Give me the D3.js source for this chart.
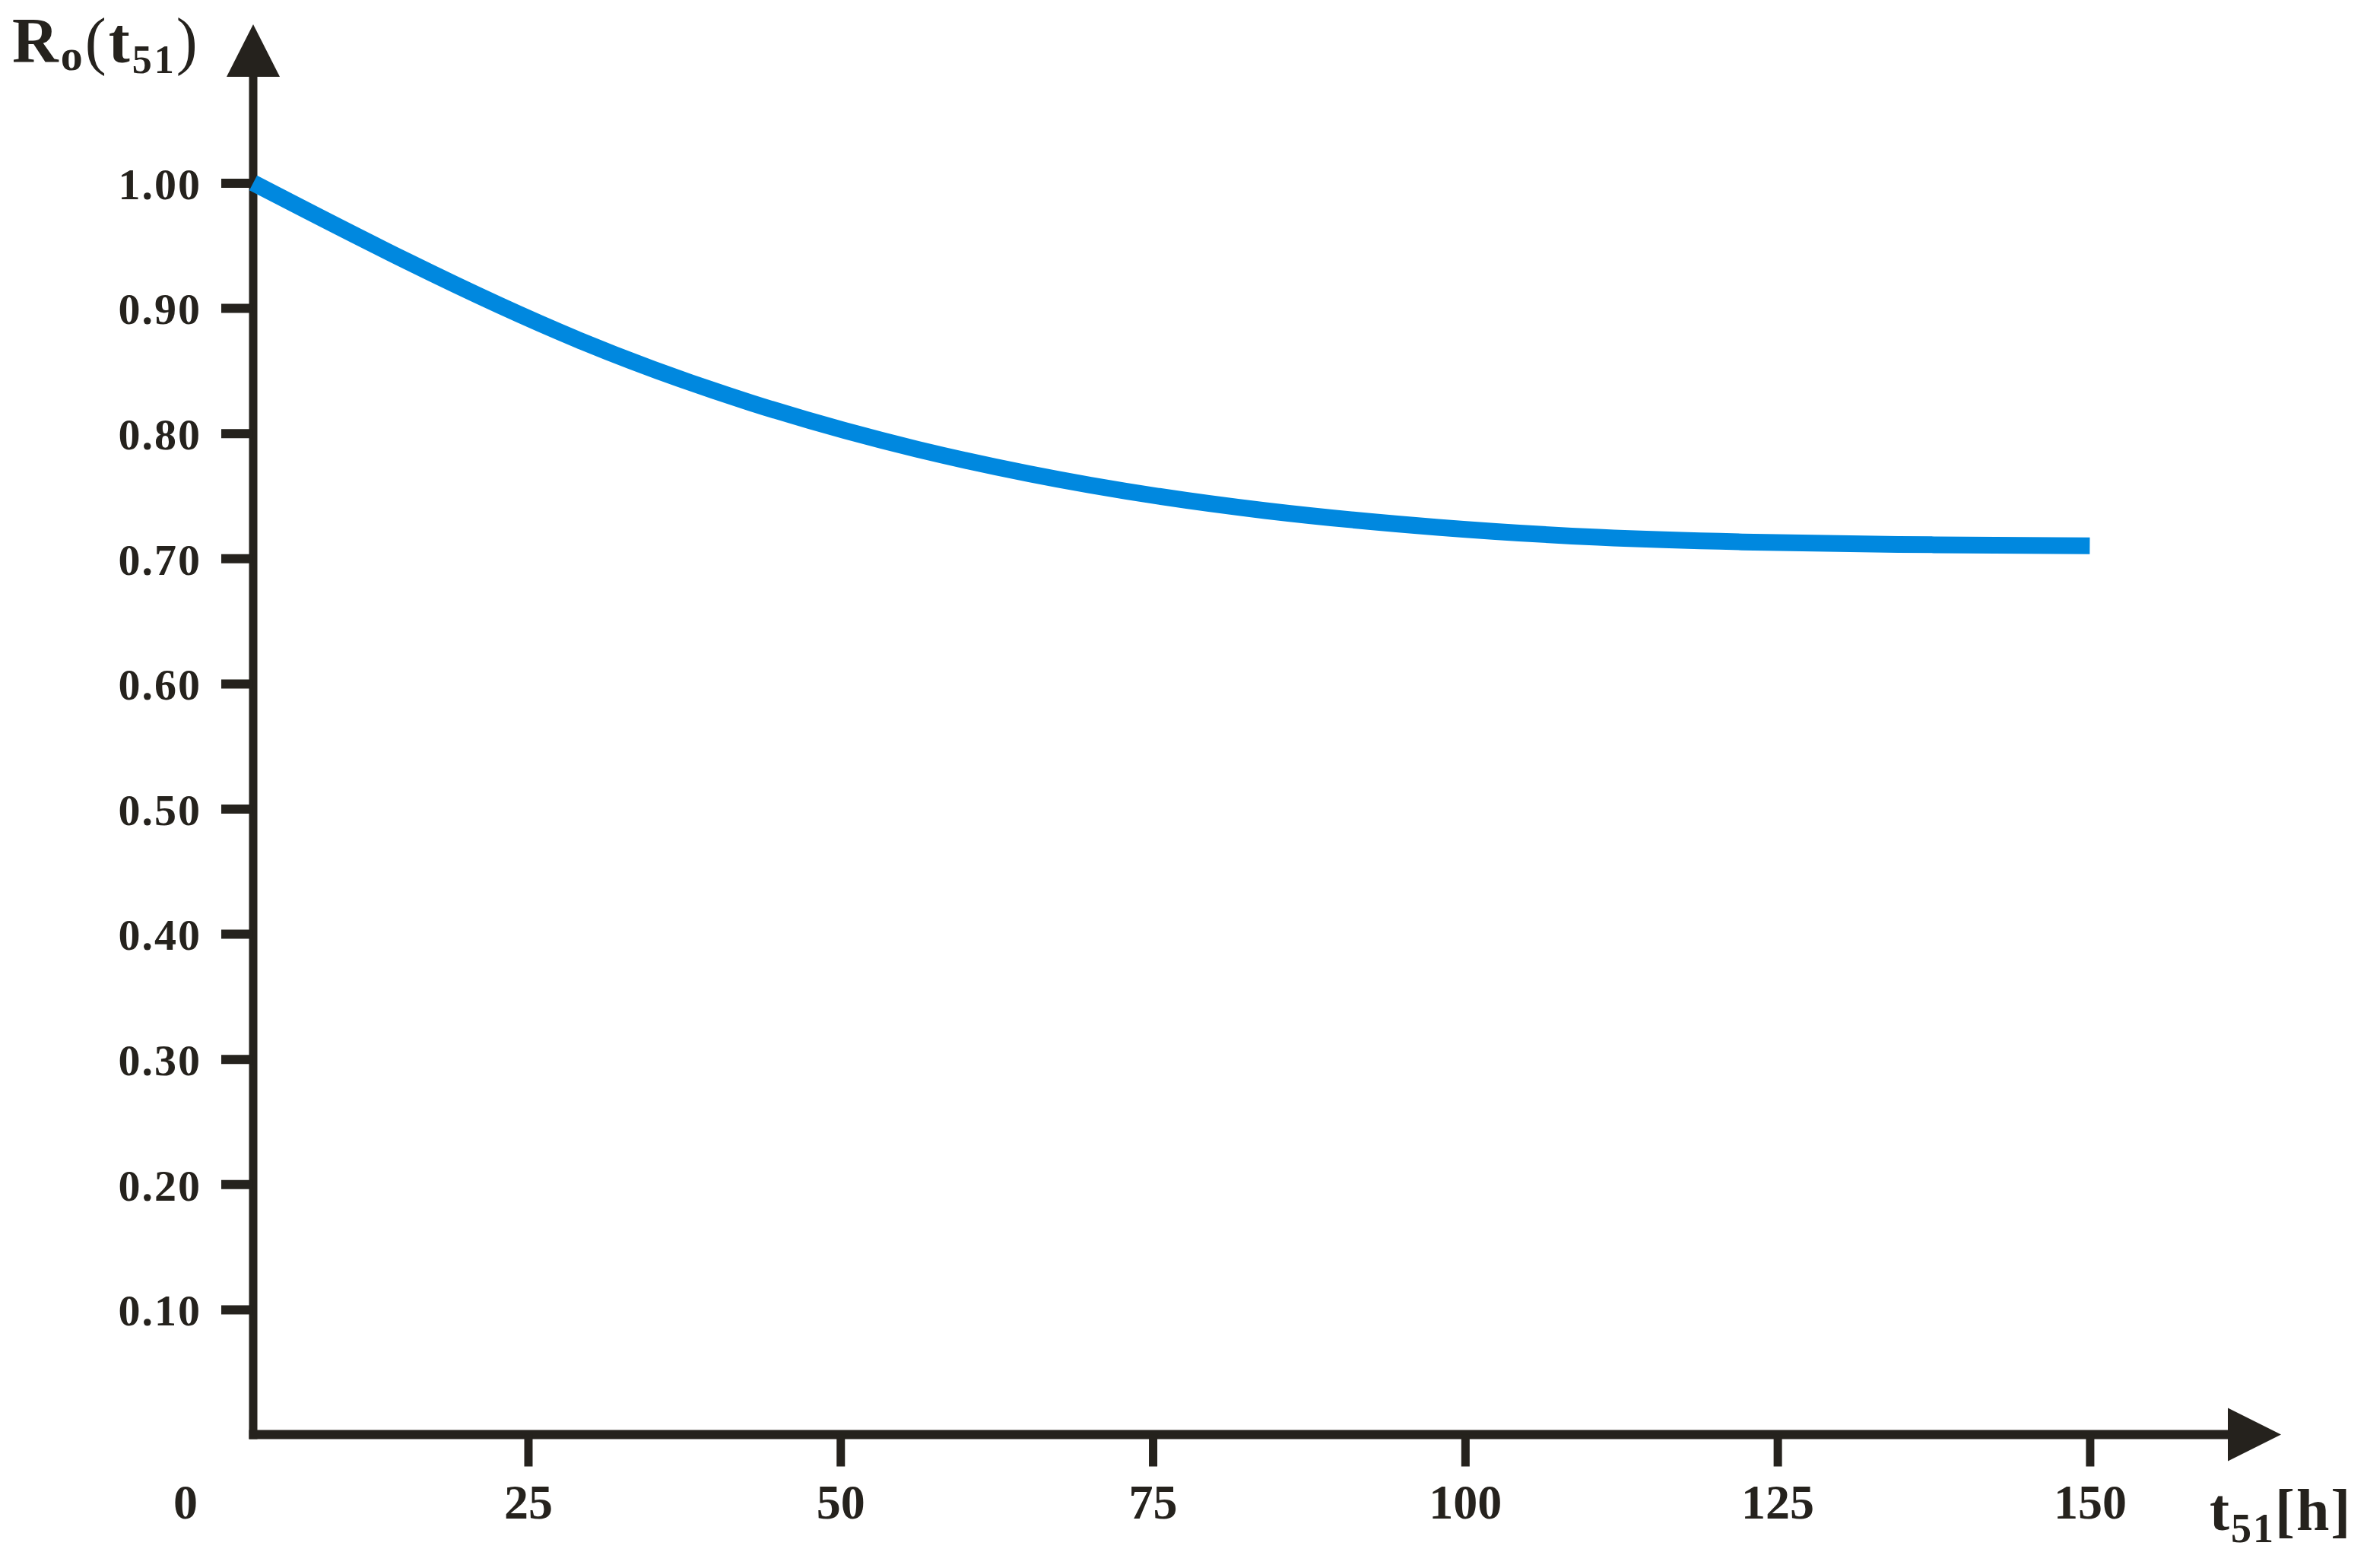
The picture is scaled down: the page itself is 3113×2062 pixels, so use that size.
<!DOCTYPE html>
<html>
<head>
<meta charset="utf-8">
<script src="https://cdn.jsdelivr.net/npm/d3@7"></script>
<style>
  body { margin: 0; background: #fff; }
  text { font-family: "Liberation Serif", "Times New Roman", serif; font-weight: bold; fill: #25221d; }
</style>
</head>
<body>
<div id="chart-area"></div>
<script>
// data
var timeHours = [3, 15, 29, 43, 56, 70, 84, 98, 111, 122, 134, 150];
var reliability = [1.00, 0.938, 0.872, 0.822, 0.786, 0.757, 0.737, 0.724, 0.716, 0.713, 0.711, 0.710];
var xTicks = [25, 50, 75, 100, 125, 150];
var yTicks = [0.1, 0.2, 0.3, 0.4, 0.5, 0.6, 0.7, 0.8, 0.9, 1.0];
var axisStart = 3; // y axis sits at t = 3

var W = 3113, H = 2062;
var ink = "#25221d";

var svg = d3.select("#chart-area")
    .append("svg")
    .attr("width", W)
    .attr("height", H);

var x = d3.scaleLinear()
    .domain([0, 150])
    .range([283.7, 2748.4]);

var y = d3.scaleLinear()
    .domain([0, 1])
    .range([1886.5, 240.5]);

var x0 = x(axisStart),
    y0 = y(0);

// axis lines
svg.append("line")
    .attr("x1", x0).attr("x2", x0)
    .attr("y1", y0 + 6).attr("y2", 98)
    .attr("stroke", ink)
    .attr("stroke-width", 11);

svg.append("line")
    .attr("x1", x0 - 5.5).attr("x2", 2932)
    .attr("y1", y0).attr("y2", y0)
    .attr("stroke", ink)
    .attr("stroke-width", 12);

// arrow heads
svg.append("path")
    .attr("d", "M" + x0 + ",32 L" + (x0 + 35) + ",101 L" + (x0 - 35) + ",101 Z")
    .attr("fill", ink);

svg.append("path")
    .attr("d", "M3000," + y0 + " L2930," + (y0 - 35) + " L2930," + (y0 + 35) + " Z")
    .attr("fill", ink);

// Y axis
var yAxisGroup = svg.append("g")
    .attr("transform", "translate(" + x0 + ",0)")
    .call(d3.axisLeft(y)
        .tickValues(yTicks)
        .tickSize(42)
        .tickPadding(26)
        .tickFormat(d3.format(".2f")));

yAxisGroup.select(".domain").remove();
yAxisGroup.selectAll(".tick line")
    .attr("stroke", ink)
    .attr("stroke-width", 12);
yAxisGroup.selectAll(".tick text")
    .attr("dy", "0.36em")
    .style("font-size", "58px")
    .style("letter-spacing", "2px")
    .attr("fill", ink);

// X axis
var xAxisGroup = svg.append("g")
    .attr("transform", "translate(0," + y0 + ")")
    .call(d3.axisBottom(x)
        .tickValues(xTicks)
        .tickSize(42)
        .tickFormat(d3.format("d")));

xAxisGroup.select(".domain").remove();
xAxisGroup.selectAll(".tick line")
    .attr("stroke", ink)
    .attr("stroke-width", 11);
xAxisGroup.selectAll(".tick text")
    .attr("y", 110)
    .attr("dy", 0)
    .style("font-size", "64px")
    .attr("fill", ink);

// origin label
svg.append("text")
    .attr("x", 244)
    .attr("y", y0 + 110)
    .attr("text-anchor", "middle")
    .style("font-size", "64px")
    .text("0");

// Y title  R_o(t_51)
var yTitle = svg.append("text")
    .attr("x", 16)
    .attr("y", 82)
    .style("font-size", "84px")
    .style("letter-spacing", "3px");
yTitle.append("tspan").text("R");
yTitle.append("tspan").attr("dy", 10).style("font-size", "58px").text("o");
yTitle.append("tspan").attr("dy", -10).style("font-weight", "normal").text("(");
yTitle.append("tspan").text("t");
yTitle.append("tspan").attr("dy", 14).style("font-size", "52px").text("51");
yTitle.append("tspan").attr("dy", -14).style("font-weight", "normal").text(")");

// X title  t_51[h]
var xTitle = svg.append("text")
    .attr("x", 2906)
    .attr("y", 2012)
    .style("font-size", "78px")
    .style("letter-spacing", "2px");
xTitle.append("tspan").text("t");
xTitle.append("tspan").attr("dy", 16).style("font-size", "54px").text("51");
xTitle.append("tspan").attr("dy", -16).text("[h]");

// reliability curve
var line = d3.line()
    .x(function(d, i) { return x(timeHours[i]); })
    .y(function(d) { return y(d); })
    .curve(d3.curveBasis);

svg.append("path")
    .datum(reliability)
    .attr("d", line)
    .attr("fill", "none")
    .attr("stroke", "#0088df")
    .attr("stroke-width", 22);
</script>
</body>
</html>
